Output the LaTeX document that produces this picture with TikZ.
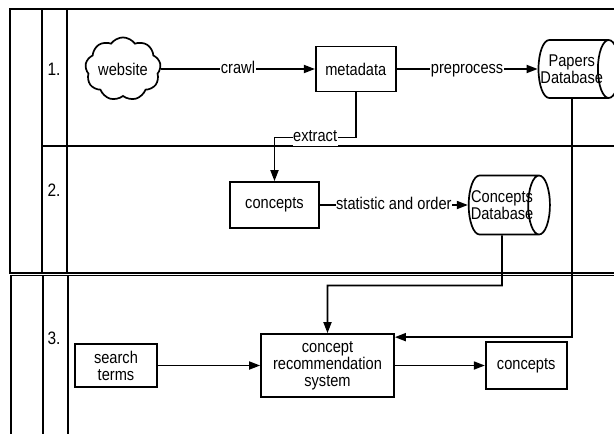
\documentclass[tikz,border=0pt]{standalone}
\usepackage{fontspec}
\setmainfont{Liberation Sans}[FakeStretch=0.86]
\usetikzlibrary{positioning, arrows.meta, shapes.geometric, shapes.symbols}

\begin{document}
\begin{tikzpicture}[
    x=1pt, y=-1pt,
    every node/.style={align=center, font=\fontsize{17}{17}\selectfont},
    box_plain/.style={
        rectangle,
        draw,
        line width=1.7pt,
        inner sep=1pt
    },
    db_store/.style={
        cylinder,
        draw,
        line width=1.7pt,
        aspect=0.7,
        inner ysep=1pt,
        inner xsep=-6pt
    },
    cloud_site/.style={
        cloud,
        draw,
        line width=1.7pt,
        cloud puffs=9,
        cloud puff arc=110,
        aspect=1.3,
        inner sep=0pt
    },
    flow_label/.style={fill=white, inner sep=0.5pt, text height=12pt, text depth=3.5pt},
    lane_num/.style={font=\fontsize{18}{20}\selectfont},
    lane_line/.style={line width=1.7pt},
    arrow/.style = {draw, -{Triangle[length=11pt,width=8pt]}, line width=1.7pt}
]
    % picture area
    \clip (0,0) rectangle (614,434);
    % pools and lanes
    \draw [lane_line] (10,9) rectangle (630,273);
    \draw [lane_line] (42,9) -- (42,273) (67,9) -- (67,273);
    \draw [lane_line] (42,146) -- (630,146);
    \draw [lane_line] (11,275.5) rectangle (630,450);
    \draw [lane_line] (43,275.5) -- (43,450) (68,275.5) -- (68,450);
    \node [lane_num] (lane1) at (54,69) {1.};
    \node [lane_num] (lane2) at (54,190) {2.};
    \node [lane_num] (lane3) at (54,338) {3.};
    % nodes
    \node [cloud_site, minimum width=74pt, minimum height=56pt] (website) at (123,69) {website};
    \node [box_plain, minimum width=80pt, minimum height=45pt, right=154pt of website] (metadata) {metadata};
    \node [db_store, minimum height=62pt, minimum width=58pt, right=141pt of metadata] (papersdb) {Papers\\Database};
    \node [box_plain, minimum width=89pt, minimum height=46pt] (concepts) at (274.5,205) {concepts};
    \node [db_store, minimum height=50pt, minimum width=59pt, right=148pt of concepts] (conceptsdb) {Concepts\\Database};
    \node [box_plain, minimum width=82pt, minimum height=43pt] (search) at (116,365.5) {search\\terms};
    \node [box_plain, minimum width=133pt, minimum height=63pt] (crs) at (327.5,365.5) {concept\\recommendation\\system};
    \node [box_plain, minimum width=81pt, minimum height=47pt, right=90pt of crs] (results) {concepts};
    % arrows
    \draw [arrow] (website) -- node[flow_label]{crawl} (metadata);
    \draw [arrow] (metadata.east) -- node[flow_label]{preprocess} (metadata.east -| papersdb.west);
    \draw [arrow] (metadata) -- ++(0,68.5) -| node[flow_label, pos=0.25]{extract} (concepts);
    \draw [arrow] (concepts.east) -- node[flow_label]{statistic and order} (concepts.east -| conceptsdb.west);
    \draw [arrow] (conceptsdb) -- ++(0,80.5) -| (crs);
    \draw [arrow] (papersdb) |- ([yshift=-4pt]crs.north east);
    \draw [arrow] (search) -- (crs);
    \draw [arrow] (crs) -- (results);
\end{tikzpicture}
\end{document}
